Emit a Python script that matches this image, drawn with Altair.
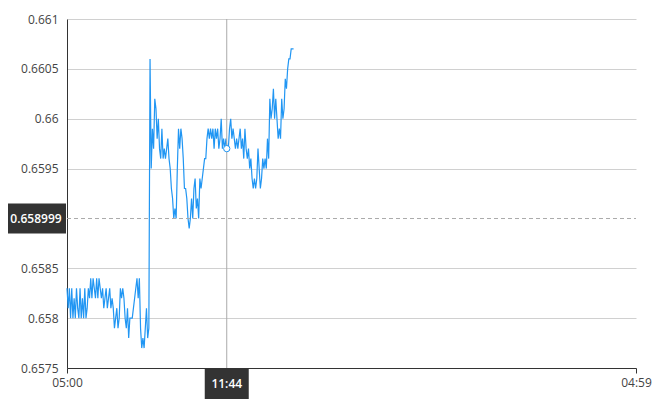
import altair as alt
import pandas as pd

# price in units of 0.0001, one reading every 3 minutes from 05:00
pips = [
    6583, 6581, 6583, 6580,
    6583, 6580, 6582, 6580, 6583, 6581, 6580, 6583, 6580, 6582, 6580, 6583, 6580, 6581, 6583,
    6582,
    6584, 6582, 6584, 6583, 6582, 6584, 6582, 6584, 6583,
    6582, 6583, 6581, 6582, 6583, 6581, 6582,
    6583, 6581, 6582,
    6581, 6579, 6580, 6581, 6579, 6580,
    6583, 6582, 6583, 6582,
    6580, 6579,
    6581, 6578, 6580,
    6580, 6580, 6581,
    6582, 6583,
    6584, 6582, 6584,
    6579, 6577, 6578, 6577,
    6579, 6581, 6578, 6579,
    6606,
    6595,
    6599, 6597,
    6602, 6601,
    6598, 6600,
    6597, 6596,
    6599, 6596, 6597, 6596, 6597,
    6598, 6596,
    6595, 6593,
    6592, 6590, 6591, 6590,
    6595,
    6599, 6597, 6599, 6598,
    6596, 6593,
    6593, 6592,
    6590, 6589, 6590,
    6592, 6590, 6593,
    6594, 6591,
    6592, 6590,
    6594, 6593, 6594,
    6595, 6596, 6596,
    6598, 6599, 6598,
    6599, 6598, 6599, 6597, 6599, 6598,
    6599, 6597, 6598, 6600, 6597, 6598,
    6597, 6598, 6597, 6597,
    6599, 6600, 6598, 6599, 6598,
    6597, 6598, 6597, 6598,
    6599, 6597, 6598, 6596,
    6599, 6597, 6596,
    6597, 6595, 6596,
    6594, 6593,
    6594, 6593, 6594,
    6597, 6595,
    6593, 6594,
    6596, 6595, 6596, 6595,
    6598, 6596,
    6602, 6600, 6601,
    6603, 6600, 6602,
    6600, 6598, 6599, 6598,
    6602, 6600, 6601,
    6604, 6603,
    6605, 6606,
    6606, 6607, 6607, 6607,
]
prices = [p / 10000 for p in pips]
times = pd.date_range("2024-01-01 05:00", periods=len(prices), freq="3min")

y_ticks = [0.6575, 0.658, 0.6585, 0.6595, 0.66, 0.6605, 0.661]
x_start = alt.DateTime(year=2024, month=1, date=1, hours=5, minutes=0)
x_end = alt.DateTime(year=2024, month=1, date=2, hours=4, minutes=59)
cross_time = alt.DateTime(year=2024, month=1, date=1, hours=11, minutes=44)
cross_price = 0.658999
cross_point_price = 0.6597
cross_time_label = "11:44"
cross_price_label = "0.658999"

df = pd.DataFrame({"time": times, "price": prices})
one = pd.DataFrame({"k": [0]})

FONT = "Open Sans"

x_enc = alt.X(
    "time:T",
    scale=alt.Scale(domain=[x_start, x_end]),
    axis=alt.Axis(
        values=[x_start, x_end], format="%H:%M", title=None, grid=False,
        domainColor="#333333", tickColor="#333333", tickSize=5,
        labelColor="#444444", labelFontSize=12, labelFont=FONT, labelPadding=4,
        labelFlush=False,
    ),
)
y_enc = alt.Y(
    "price:Q",
    scale=alt.Scale(domain=[0.6575, 0.661], nice=False, zero=False),
    axis=alt.Axis(
        values=y_ticks, format="~g", title=None, grid=True, gridColor="#d0d0d0",
        ticks=False, domainColor="#333333", labelColor="#444444", labelFontSize=12,
        labelFont=FONT, labelPadding=9,
    ),
)

line = alt.Chart(df).mark_line(color="#2196f3", strokeWidth=1.2).encode(x=x_enc, y=y_enc)

vrule = alt.Chart(one).mark_rule(color="#aaaaaa", strokeWidth=1).encode(
    x=alt.datum(cross_time, type="temporal"), y=alt.value(0), y2=alt.value(349)
)
hrule = alt.Chart(one).mark_rule(color="#aaaaaa", strokeWidth=1, strokeDash=[4, 3]).encode(
    y=alt.datum(cross_price), x=alt.value(0), x2=alt.value(569)
)
point = alt.Chart(one).mark_point(
    shape="circle", size=40, filled=True, fill="white", stroke="#2196f3", strokeWidth=1, opacity=1
).encode(x=alt.datum(cross_time, type="temporal"), y=alt.datum(cross_point_price))

ybox = alt.Chart(one).mark_rect(color="#333333", yOffset=-15, y2Offset=15).encode(
    y=alt.datum(cross_price), y2=alt.datum(cross_price), x=alt.value(-59), x2=alt.value(-1)
)
ytext = alt.Chart(one).mark_text(
    color="white", fontSize=12, font=FONT, fontWeight=600, align="center", baseline="middle"
).encode(y=alt.datum(cross_price), x=alt.value(-31), text=alt.value(cross_price_label))

xbox = alt.Chart(one).mark_rect(color="#333333", xOffset=-22, x2Offset=22).encode(
    x=alt.datum(cross_time, type="temporal"), x2=alt.datum(cross_time, type="temporal"),
    y=alt.value(349), y2=alt.value(380)
)
xtext = alt.Chart(one).mark_text(
    color="white", fontSize=12, font=FONT, fontWeight=600, align="center", baseline="middle"
).encode(x=alt.datum(cross_time, type="temporal"), y=alt.value(365), text=alt.value(cross_time_label))

chart = alt.layer(line, vrule, hrule, point, ybox, ytext, xbox, xtext).properties(
    width=569, height=349,
    autosize=alt.AutoSizeParams(type="none"),
    padding={"left": 59, "top": 11, "right": 26, "bottom": 32},
).configure_view(stroke=None)

chart.save("out.html", embed_options={"renderer": "svg", "actions": False})
